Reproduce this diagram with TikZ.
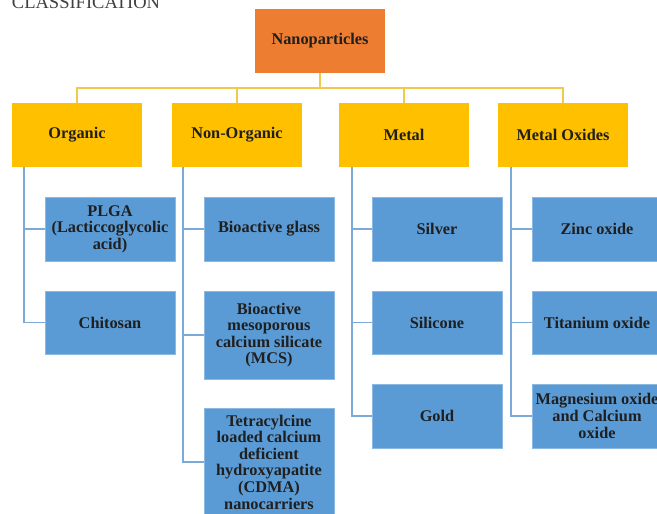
\documentclass[tikz,border=0pt]{standalone}
\usepackage{fontspec}
\setmainfont{Liberation Serif}
\begin{document}
\begin{tikzpicture}[x=1pt,y=-1pt,
  every node/.style={inner sep=0pt,outer sep=0pt,align=center,text=black!88,
    font=\fontsize{16.3}{16.6}\selectfont\bfseries},
  nanobox/.style={fill=orgcol,minimum width=130pt,minimum height=64pt},
  catbox/.style={fill=goldcol,minimum width=130pt,minimum height=64pt},
  leafbox/.style={fill=bluecol,draw=bluecol!70!white,line width=0.8pt,minimum width=130pt},
  yline/.style={draw=ylinecol,line width=1.3pt},
  bline/.style={draw=blinecol,line width=1.3pt}]
\definecolor{orgcol}{HTML}{ED7D31}
\definecolor{goldcol}{HTML}{FFC000}
\definecolor{bluecol}{HTML}{5B9BD5}
\definecolor{ylinecol}{HTML}{F2C94C}
\definecolor{blinecol}{HTML}{7BA9D8}
\useasboundingbox[fill=white] (0,0) rectangle (657,514);

\node[anchor=base west,font=\fontsize{18.5}{19}\selectfont,text=black!75] (title) at (12,8.5) {CLASSIFICATION};

\node[nanobox] (nano) at (320,41) {Nanoparticles};

\node[catbox] (org) at (77,135) {Organic};
\node[catbox] (non) at (237,135) {Non-Organic};
\node[catbox] (met) at (404,135) {Metal};
\node[catbox] (mox) at (563,135) {Metal Oxides};

\coordinate (bus) at (0,88);
\draw[yline] (nano.south) -- (nano.south |- bus);
\draw[yline] (org.north) -- (org.north |- bus) -- (mox.north |- bus) -- (mox.north);
\draw[yline] (non.north) -- (non.north |- bus);
\draw[yline] (met.north) -- (met.north |- bus);

% column 1
\node[leafbox,minimum height=64pt] (plga) at (110,229) {PLGA\\(Lacticcoglycolic\\acid)};
\node[leafbox,minimum height=63pt] (chi) at (110,322.5) {Chitosan};
% column 2
\node[leafbox,minimum height=64pt] (bg) at (269,229) {Bioactive glass};
\node[leafbox,minimum height=88pt] (mcs) at (269,335) {Bioactive\\mesoporous\\calcium silicate\\(MCS)};
\node[leafbox,minimum height=108pt] (tet) at (269,462) {Tetracylcine\\loaded calcium\\deficient\\hydroxyapatite\\(CDMA)\\nanocarriers};
% column 3
\node[leafbox,minimum height=64pt] (sil) at (437,229) {Silver};
\node[leafbox,minimum height=63pt] (sic) at (437,322.5) {Silicone};
\node[leafbox,minimum height=64pt] (gold) at (437,416) {Gold};
% column 4
\node[leafbox,minimum height=64pt] (zn) at (597,229) {Zinc oxide};
\node[leafbox,minimum height=63pt] (ti) at (597,322.5) {Titanium oxide};
\node[leafbox,minimum height=64pt] (mg) at (597,416) {Magnesium oxide\\and Calcium\\oxide};

% trunks
\coordinate (t1) at (24,167);
\coordinate (t2) at (183,167);
\coordinate (t3) at (352,167);
\coordinate (t4) at (511,167);
\draw[bline] (t1) |- (plga.west);
\draw[bline] (t1) |- (chi.west);
\draw[bline] (t2) |- (bg.west);
\draw[bline] (t2) |- (mcs.west);
\draw[bline] (t2) |- (tet.west);
\draw[bline] (t3) |- (sil.west);
\draw[bline] (t3) |- (sic.west);
\draw[bline] (t3) |- (gold.west);
\draw[bline] (t4) |- (zn.west);
\draw[bline] (t4) |- (ti.west);
\draw[bline] (t4) |- (mg.west);
\end{tikzpicture}
\end{document}
